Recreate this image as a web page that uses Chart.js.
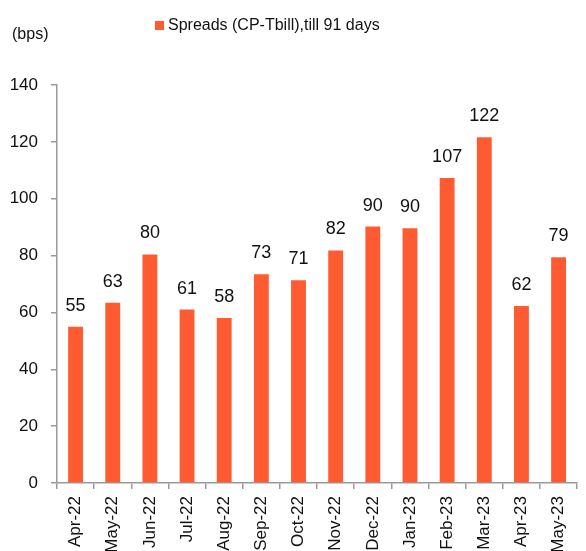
<!DOCTYPE html>
<html>
<head>
<meta charset="utf-8">
<script src="https://cdn.jsdelivr.net/npm/chart.js@4.4.1/dist/chart.umd.min.js"></script>
<style>
  html, body { margin: 0; padding: 0; background: #fff; }
  #wrap { width: 586px; height: 551px; position: relative; }
</style>
</head>
<body>
<div id="wrap"><canvas id="spreadChart"></canvas></div>
<script>
// Chart data
var months = ['Apr-22', 'May-22', 'Jun-22', 'Jul-22', 'Aug-22', 'Sep-22', 'Oct-22',
              'Nov-22', 'Dec-22', 'Jan-23', 'Feb-23', 'Mar-23', 'Apr-23', 'May-23'];
var spreads = [55, 63.4, 80.4, 61, 58, 73.4, 71.3, 81.8, 90.2, 89.6, 107.3, 121.6, 62.3, 79.4];
var seriesLabel = 'Spreads (CP-Tbill),till 91 days';
var yTicks = [0, 20, 40, 60, 80, 100, 120, 140];
var unitLabel = '(bps)';

var barColor = '#FF5B33';
var axisColor = '#9a9a9a';
var fontFamily = '"Liberation Sans", Arial, sans-serif';

// draws value labels, the unit text and the legend
var extrasPlugin = {
  id: 'extras',
  afterDatasetsDraw: function (chart) {
    var ctx = chart.ctx;
    var meta = chart.getDatasetMeta(0);
    ctx.save();
    ctx.fillStyle = '#111';
    ctx.font = '18px ' + fontFamily;
    ctx.textAlign = 'center';
    ctx.textBaseline = 'bottom';
    meta.data.forEach(function (bar, i) {
      ctx.fillText(Math.round(spreads[i]), bar.x, bar.y - 12);
    });

    // unit label
    ctx.font = '16px ' + fontFamily;
    ctx.textAlign = 'left';
    ctx.textBaseline = 'middle';
    ctx.fillText(unitLabel, 12, 35);

    // legend
    var ds = chart.data.datasets[0];
    ctx.fillStyle = ds.backgroundColor;
    ctx.fillRect(155, 21, 9, 9);
    ctx.fillStyle = '#111';
    ctx.fillText(ds.label, 168, 26);
    ctx.restore();
  }
};

var ctx = document.getElementById('spreadChart').getContext('2d');
var spreadChart = new Chart(ctx, {
  type: 'bar',
  data: {
    labels: months,
    datasets: [{
      label: seriesLabel,
      data: spreads,
      backgroundColor: barColor,
      borderWidth: 0,
      barPercentage: 0.4,
      categoryPercentage: 1.0
    }]
  },
  options: {
    responsive: true,
    maintainAspectRatio: false,
    animation: false,
    layout: { padding: { top: 85, right: 0, left: 0, bottom: 0 } },
    plugins: {
      legend: { display: false },
      tooltip: { enabled: false }
    },
    scales: {
      x: {
        afterFit: function (scale) { scale.height = 68; },
        grid: {
          offset: true,
          drawOnChartArea: false,
          drawTicks: true,
          tickLength: 6,
          color: axisColor,
          lineWidth: 1.5
        },
        border: { color: axisColor, width: 1.5 },
        ticks: {
          color: '#111',
          font: { family: fontFamily, size: 17 },
          minRotation: 90,
          maxRotation: 90,
          padding: 7,
          autoSkip: false
        }
      },
      y: {
        min: 0,
        max: 140,
        afterFit: function (scale) { scale.width = 57; },
        afterBuildTicks: function (scale) {
          scale.ticks = yTicks.map(function (v) { return { value: v }; });
        },
        grid: {
          drawOnChartArea: false,
          drawTicks: true,
          tickLength: 6,
          color: axisColor,
          lineWidth: 1.5
        },
        border: { color: axisColor, width: 1.5 },
        ticks: {
          color: '#111',
          font: { family: fontFamily, size: 17 },
          padding: 13
        }
      }
    }
  },
  plugins: [extrasPlugin]
});
</script>
</body>
</html>
